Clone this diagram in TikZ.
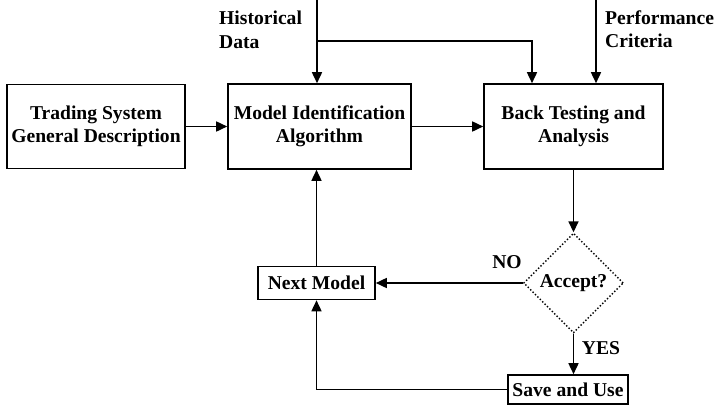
\documentclass[tikz,border=0pt]{standalone}
\usepackage{fontspec}
\setmainfont{Liberation Serif}
\usetikzlibrary{arrows.meta,shapes.geometric}
\begin{document}
\begin{tikzpicture}[x=1pt,y=-1pt,
  font=\fontsize{19.6}{23.5}\selectfont\bfseries,
  box/.style={draw,line width=1.6pt,align=center,inner sep=0pt},
  dec/.style={draw,diamond,dotted,line width=1.4pt,inner sep=0pt,minimum width=100pt,minimum height=100pt},
  lbl/.style={align=left,inner sep=0pt},
  arr/.style={line width=1.6pt,-{Triangle[length=11pt,width=10pt]}},
  ln/.style={line width=1.6pt}]
\useasboundingbox (0,0) rectangle (714,405);
\node[box,minimum width=178pt,minimum height=84pt] (b1) at (96,126.5) {Trading System\\General Description};
\node[box,minimum width=183pt,minimum height=85pt] (b2) at (319.5,126.5) {Model Identification\\Algorithm};
\node[box,minimum width=179pt,minimum height=85pt] (b3) at (573.5,126.5) {Back Testing and\\Analysis};
\node[dec] (dm) at (573.5,283) {Accept?};
\node[box,minimum width=117pt,minimum height=33pt] (nm) at (316.5,283) {Next Model};
\node[box,minimum width=120pt,minimum height=29pt] (su) at (568,389.5) {Save and Use};
\node[lbl,anchor=north west] (hdl) at (219,11) {Historical\\Data};
\node[lbl,anchor=north west] (pcl) at (605,10) {Performance\\Criteria};
\node[lbl] (no) at (507,262) {NO};
\node[lbl] (yes) at (601,348) {YES};
\coordinate (hd) at (317,0);
\coordinate (j) at (317,41);
\coordinate (j2) at (532,41);
\coordinate (pc) at (596,0);
\draw[arr] (b1.east) -- (b2.west);
\draw[arr] (b2.east) -- (b3.west);
\draw[arr] (hd) -- (hd |- b2.north);
\draw[arr] (j) -- (j2) -- (j2 |- b3.north);
\draw[arr] (pc) -- (pc |- b3.north);
\draw[arr] (b3.south) -- (dm.north);
\draw[arr] (dm.west) -- (nm.east);
\draw[arr] (dm.south) -- (dm.south |- su.north);
\draw[arr] (su.west) -| (nm.south);
\draw[arr] (nm.north) -- (nm.north |- b2.south);
\end{tikzpicture}
\end{document}
